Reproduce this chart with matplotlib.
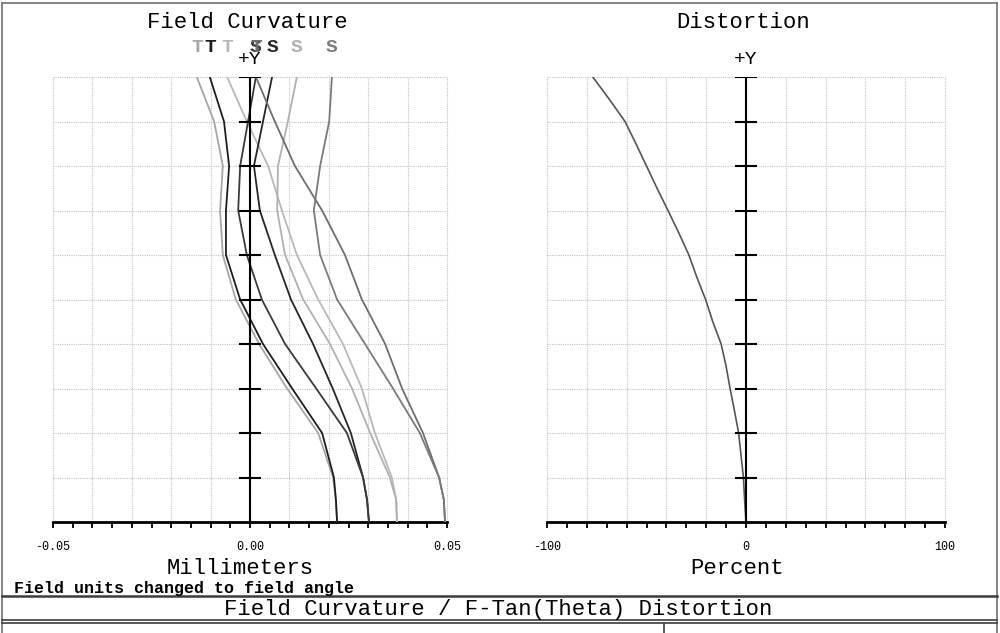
import matplotlib
matplotlib.use('Agg')
import numpy as np
import matplotlib.pyplot as plt
import matplotlib.transforms as mtransforms
from matplotlib.lines import Line2D
from matplotlib.ticker import MultipleLocator

plt.rcParams['font.family'] = ['Liberation Mono', 'DejaVu Sans Mono']

# ---------------- data ----------------
# relative field (0 = on axis, 1 = full field) for field curvature
fc_field = [0.0, 0.05, 0.1, 0.2, 0.3, 0.4, 0.5, 0.6, 0.7, 0.8, 0.9, 1.0]
grid_field = [0.0, 0.1, 0.2, 0.3, 0.4, 0.5, 0.6, 0.7, 0.8, 0.9, 1.0]

# field curvature curves (mm), listed from field 0 to full field
fc_labels = ['T', 'T', 'T', 'S', 'S', 'S', 'T', 'S']
fc_colors = ['#a6a6a6', '#1e1e1e', '#b8b8b8', '#b0b0b0',
             '#262626', '#3a3a3a', '#6e6e6e', '#7a7a7a']
fc_1 = [0.0221, 0.0218, 0.0211, 0.0173, 0.0094, 0.0023, -0.0036, -0.0069, -0.0076, -0.0069, -0.0091, -0.0135]
fc_2 = [0.0221, 0.0218, 0.0213, 0.0183, 0.0107, 0.0033, -0.0025, -0.0061, -0.0061, -0.0053, -0.0066, -0.0102]
fc_3 = [0.0373, 0.0371, 0.0360, 0.0317, 0.0284, 0.0236, 0.0173, 0.0119, 0.0081, 0.0046, -0.0008, -0.0058]
fc_4 = [0.0373, 0.0371, 0.0355, 0.0305, 0.0259, 0.0203, 0.0135, 0.0089, 0.0069, 0.0071, 0.0096, 0.0119]
fc_5 = [0.0302, 0.0297, 0.0287, 0.0256, 0.0210, 0.0160, 0.0104, 0.0063, 0.0025, 0.0010, 0.0033, 0.0056]
fc_6 = [0.0302, 0.0297, 0.0287, 0.0246, 0.0168, 0.0089, 0.0030, -0.0008, -0.0030, -0.0025, -0.0005, 0.0015]
fc_7 = [0.0495, 0.0492, 0.0480, 0.0439, 0.0386, 0.0343, 0.0284, 0.0241, 0.0183, 0.0114, 0.0063, 0.0015]
fc_8 = [0.0495, 0.0492, 0.0480, 0.0431, 0.0363, 0.0292, 0.0221, 0.0178, 0.0162, 0.0178, 0.0201, 0.0208]
fc_series = [fc_1, fc_2, fc_3, fc_4, fc_5, fc_6, fc_7, fc_8]

# F-Tan(Theta) distortion (percent)
dist_field = [0.0, 0.05, 0.1, 0.15, 0.2, 0.25, 0.3, 0.35, 0.4, 0.45, 0.5,
              0.55, 0.6, 0.65, 0.7, 0.75, 0.8, 0.85, 0.9, 0.95, 1.0]
distortion = [0.0, -0.7, -1.3, -2.5, -3.7, -5.8, -8.0, -10.0, -12.5, -16.7, -20.3,
              -24.7, -28.7, -33.8, -39.2, -44.7, -50.0, -55.3, -60.8, -68.7, -77.0]

# tick labels
fc_ticks = [-0.05, -0.04, -0.03, -0.02, -0.01, 0.0, 0.01, 0.02, 0.03, 0.04, 0.05]
fc_ticklabels = ['-0.05', '', '', '', '', '0.00', '', '', '', '', '0.05']
dist_ticks = [-100, -80, -60, -40, -20, 0, 20, 40, 60, 80, 100]
dist_ticklabels = ['-100', '', '', '', '', '0', '', '', '', '', '100']

# ---------------- figure ----------------
W, H = 1000, 633
fig = plt.figure(figsize=(10, 6.33), dpi=100)


def fx(px):
    return px / W


def fy(py):
    return 1 - py / H


top_px, bot_px = 77, 522
ax1 = fig.add_axes([fx(53), fy(bot_px), (447 - 53) / W, (bot_px - top_px) / H])
ax2 = fig.add_axes([fx(547), fy(bot_px), (945 - 547) / W, (bot_px - top_px) / H])


def style(ax, ticks, labels, minor):
    ax.set_xlim(ticks[0], ticks[-1])
    ax.set_ylim(0, 1)
    for s in ('left', 'right', 'top'):
        ax.spines[s].set_visible(False)
    ax.spines['bottom'].set_linewidth(2)
    ax.spines['bottom'].set_color('black')
    ax.set_xticks(ticks, labels)
    ax.xaxis.set_minor_locator(MultipleLocator(minor))
    ax.tick_params(axis='x', which='both', direction='out', length=4.5,
                   width=1.3, color='black', labelsize=8.5, pad=9)
    ax.set_yticks(grid_field)
    ax.tick_params(axis='y', length=0, labelleft=False)
    ax.grid(True, which='major', color='#c2c2c2', linestyle=(0, (1, 1)),
            linewidth=0.8)
    ax.set_axisbelow(True)
    for gl in ax.get_xgridlines() + ax.get_ygridlines():
        gl.set_clip_on(False)
    # +Y axis with ticks
    ax.plot([0, 0], [0, 1], color='black', lw=1.5, zorder=6)
    ax.plot([0] * (len(grid_field) - 1), grid_field[1:], ls='none', marker='_',
            ms=16, mew=1.5, color='black', zorder=6)
    ax.text(0, (bot_px - 60) / (bot_px - top_px), '+Y', ha='center',
            va='center', fontsize=14, transform=mtransforms.blended_transform_factory(
                ax.transData, ax.transAxes))


style(ax1, fc_ticks, fc_ticklabels, 0.005)
style(ax2, dist_ticks, dist_ticklabels, 10)

lab_y = (bot_px - 47) / (bot_px - top_px)
blend1 = mtransforms.blended_transform_factory(ax1.transData, ax1.transAxes)
for vals, lab, col in zip(fc_series, fc_labels, fc_colors):
    ax1.plot(vals, fc_field, color=col, lw=1.3, zorder=4)
    ax1.text(vals[-1], lab_y, lab, color=col, ha='center', va='center',
             fontsize=14, fontweight='bold', transform=blend1)

ax2.plot(distortion, dist_field, color='#555555', lw=1.2, zorder=4)

# ---------------- texts ----------------
fig.text(fx(247), fy(22), 'Field Curvature', ha='center', va='center', fontsize=16)
fig.text(fx(743), fy(22), 'Distortion', ha='center', va='center', fontsize=16)
fig.text(fx(240), fy(569), 'Millimeters', ha='center', va='center', fontsize=16)
fig.text(fx(737), fy(569), 'Percent', ha='center', va='center', fontsize=16)
fig.text(fx(14), fy(589), 'Field units changed to field angle', ha='left',
         va='center', fontsize=12, fontweight='bold')
fig.text(fx(498), fy(610), 'Field Curvature / F-Tan(Theta) Distortion',
         ha='center', va='center', fontsize=16)

# ---------------- frame lines ----------------
def hline(py, lw=1.5, color='#3c3c3c', x0=2, x1=997):
    fig.add_artist(Line2D([fx(x0), fx(x1)], [fy(py), fy(py)], lw=lw,
                          color=color, transform=fig.transFigure))


def vline(px, y0, y1, lw=1.5, color='#3c3c3c'):
    fig.add_artist(Line2D([fx(px), fx(px)], [fy(y0), fy(y1)], lw=lw,
                          color=color, transform=fig.transFigure))


hline(3, lw=1.2, color='#707070')
vline(2, 3, 633, lw=1.2, color='#707070')
vline(997, 3, 633, lw=1.2, color='#707070')
hline(596, lw=1.8)
hline(620, lw=1.2)
hline(623, lw=1.2)
vline(664, 623, 633, lw=1.2)

fig.savefig('out.png', dpi=100)
